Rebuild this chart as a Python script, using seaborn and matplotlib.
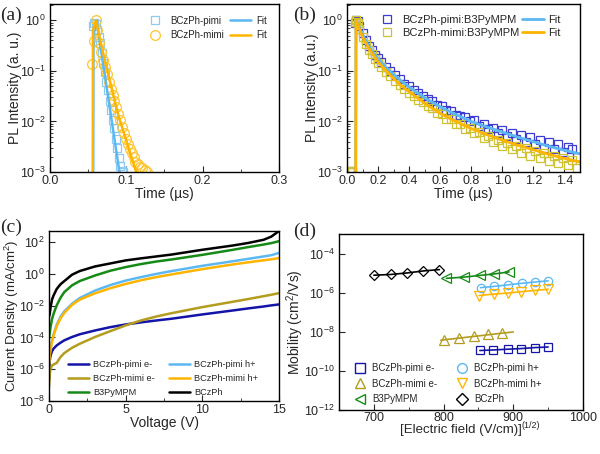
import numpy as np
import pandas as pd
import matplotlib
matplotlib.use("agg")
import matplotlib.pyplot as plt
import matplotlib.lines as mlines
from matplotlib.ticker import AutoMinorLocator, LogLocator, NullFormatter
import seaborn as sns

# ---------------- (a) PL decay of neat films ----------------
a_pimi_t = [0.056, 0.058, 0.060, 0.062, 0.064, 0.066, 0.068, 0.070, 0.072, 0.074, 0.076,
            0.078, 0.080, 0.082, 0.084, 0.086, 0.088, 0.090, 0.092, 0.094, 0.096]
a_pimi_log = [-0.12, -0.06, -0.08, -0.2, -0.32, -0.45, -0.65, -0.85, -1.02, -1.22, -1.38,
              -1.6, -1.78, -1.98, -2.12, -2.35, -2.52, -2.72, -2.88, -2.98, -3.0]
a_mimi_t = [0.0555, 0.058, 0.060, 0.062, 0.0645, 0.067, 0.0695, 0.072, 0.0745, 0.077, 0.0795,
            0.082, 0.0845, 0.087, 0.0895, 0.092, 0.0945, 0.097, 0.0995, 0.102, 0.1045, 0.107,
            0.1095, 0.112, 0.115, 0.118, 0.121, 0.124, 0.127]
a_mimi_log = [-0.86, -0.4, 0.0, -0.2, -0.45, -0.62, -0.78, -0.92, -1.07, -1.22, -1.35,
              -1.48, -1.6, -1.72, -1.85, -1.98, -2.1, -2.22, -2.35, -2.45, -2.55, -2.62,
              -2.7, -2.8, -2.85, -2.9, -2.92, -2.96, -3.0]
a_pimi_fit_t = [0.0566, 0.0570, 0.0610, 0.0920]
a_pimi_fit_log = [-3.3, -0.3, 0.0, -3.1]
a_mimi_fit_t = [0.0560, 0.0563, 0.0600, 0.0750, 0.0900, 0.1150]
a_mimi_fit_log = [-3.3, -0.2, 0.0, -1.0, -1.9, -3.1]

# ---------------- (b) PL decay of exciplex blends ----------------
b_t = [0.02, 0.03, 0.05, 0.06, 0.07, 0.08, 0.10, 0.12, 0.14, 0.16, 0.18, 0.20, 0.22,
       0.25, 0.28, 0.31, 0.34, 0.37, 0.40, 0.43, 0.46, 0.49, 0.52, 0.55, 0.58, 0.61,
       0.64, 0.67, 0.70, 0.73, 0.76, 0.79, 0.82, 0.85, 0.88, 0.91, 0.94, 0.97, 1.00,
       1.03, 1.06, 1.09, 1.12, 1.15, 1.18, 1.21, 1.24, 1.27, 1.30, 1.33, 1.36, 1.39,
       1.42, 1.45, 1.48]
b_pimi_log = [-2.97, -2.99, -0.05, 0.0, -0.02, -0.12, -0.25, -0.38, -0.5, -0.58, -0.68, -0.74, -0.82,
              -0.92, -1.0, -1.09, -1.16, -1.26, -1.3, -1.38, -1.44, -1.49, -1.56, -1.6, -1.68, -1.7,
              -1.78, -1.8, -1.88, -1.9, -1.92, -2.0, -1.98, -2.08, -2.05, -2.15, -2.12, -2.22, -2.16,
              -2.28, -2.22, -2.35, -2.27, -2.4, -2.3, -2.45, -2.36, -2.52, -2.4, -2.55, -2.45, -2.6,
              -2.5, -2.55, -2.7]
b_mimi_log = [-3.0, -2.98, -0.03, 0.0, -0.06, -0.18, -0.33, -0.46, -0.58, -0.66, -0.76, -0.85, -0.92,
              -1.02, -1.1, -1.2, -1.28, -1.36, -1.44, -1.5, -1.58, -1.62, -1.7, -1.74, -1.84, -1.86,
              -1.95, -1.96, -2.05, -2.06, -2.14, -2.12, -2.22, -2.2, -2.32, -2.28, -2.4, -2.36, -2.48,
              -2.42, -2.55, -2.48, -2.62, -2.52, -2.68, -2.58, -2.72, -2.62, -2.78, -2.68, -2.82, -2.72,
              -2.86, -2.76, -2.92]
b_fit_t = [0.056, 0.058, 0.06, 0.08, 0.10, 0.13, 0.16, 0.20, 0.25, 0.30, 0.35, 0.40, 0.50,
           0.60, 0.70, 0.80, 0.90, 1.00, 1.10, 1.20, 1.30, 1.40, 1.50]
b_pimi_fit_log = [-3.3, -0.02, 0.0, -0.14, -0.28, -0.45, -0.6, -0.76, -0.93, -1.07, -1.2, -1.32, -1.53,
                  -1.71, -1.86, -2.0, -2.11, -2.21, -2.31, -2.4, -2.49, -2.57, -2.64]
b_mimi_fit_log = [-3.3, -0.02, 0.0, -0.17, -0.33, -0.5, -0.64, -0.82, -0.99, -1.15, -1.29, -1.41, -1.64,
                  -1.84, -2.0, -2.14, -2.26, -2.37, -2.47, -2.56, -2.65, -2.73, -2.8]

# ---------------- (c) J-V of single carrier devices ----------------
volt = [0, 0.05, 0.1, 0.2, 0.3, 0.5, 0.75, 1, 1.5, 2, 3, 4, 5, 6, 7, 8, 10, 12, 13, 14, 14.5, 15]
j_pimi_e = [-6.7, -5.44, -5.13, -4.86, -4.7, -4.5, -4.33, -4.18, -3.97, -3.8, -3.56, -3.35, -3.18,
            -3.05, -2.93, -2.82, -2.55, -2.3, -2.17, -2.05, -1.98, -1.92]
j_mimi_e = [-7.1, -6.28, -5.97, -5.76, -5.7, -5.6, -5.23, -4.98, -4.65, -4.4, -3.97, -3.6, -3.24,
            -2.93, -2.68, -2.47, -2.09, -1.75, -1.58, -1.4, -1.31, -1.21]
j_b3py = [-4.1, -3.7, -3.35, -2.82, -2.5, -1.98, -1.5, -1.14, -0.72, -0.45, -0.1, 0.2, 0.43,
          0.62, 0.78, 0.91, 1.2, 1.52, 1.69, 1.85, 1.94, 2.06]
j_pimi_h = [-5.6, -5.0, -4.7, -4.2, -3.8, -3.2, -2.7, -2.35, -1.88, -1.52, -1.05, -0.7, -0.42,
            -0.2, 0.0, 0.18, 0.51, 0.8, 0.95, 1.1, 1.18, 1.32]
j_mimi_h = [-5.8, -5.1, -4.75, -4.25, -3.85, -3.3, -2.8, -2.45, -1.95, -1.62, -1.22, -0.9, -0.63,
            -0.4, -0.2, -0.03, 0.3, 0.6, 0.73, 0.86, 0.92, 1.0]
j_bczph = [-2.7, -2.5, -2.1, -1.6, -1.35, -0.95, -0.65, -0.45, -0.05, 0.18, 0.47, 0.66, 0.85,
           0.98, 1.1, 1.22, 1.52, 1.79, 1.95, 2.15, 2.35, 2.7]

# ---------------- (d) mobility vs sqrt(E) ----------------
mu_pimi_e_x = [852, 871, 892, 911, 931, 950]
mu_pimi_e = [1.1e-9, 1.17e-9, 1.28e-9, 1.38e-9, 1.55e-9, 1.66e-9]
mu_mimi_e_x = [800, 822, 843, 864, 884]
mu_mimi_e = [3.9e-9, 4.7e-9, 5.9e-9, 7.4e-9, 8.9e-9]
mu_mimi_e_fit_x = [796, 900]
mu_mimi_e_fit = [3.7e-9, 9.8e-9]
mu_b3py_x = [804, 829, 852, 873, 894]
mu_b3py = [5.4e-6, 6.2e-6, 7.6e-6, 9.1e-6, 1.15e-5]
mu_pimi_h_x = [853, 873, 892, 912, 931, 950]
mu_pimi_h = [1.8e-6, 2.1e-6, 2.5e-6, 3.0e-6, 3.5e-6, 4.0e-6]
mu_mimi_h_x = [851, 872, 892, 911, 931, 950]
mu_mimi_h = [7.1e-7, 8.5e-7, 9.5e-7, 1.12e-6, 1.3e-6, 1.5e-6]
mu_bczph_x = [700, 724, 748, 771, 794]
mu_bczph = [7.8e-6, 8.5e-6, 1.02e-5, 1.29e-5, 1.51e-5]

C_DBLUE = "#1414a8"
C_OLIVE = "#b39c1e"
C_GREEN = "#168a16"
C_LBLUE = "#5cb8f2"
C_ORANGE = "#ffb400"

sns.set_theme(style="ticks")
plt.rcParams["font.family"] = ["Liberation Sans", "DejaVu Sans"]
plt.rcParams["mathtext.fontset"] = "custom"
plt.rcParams["mathtext.rm"] = "Liberation Sans"
plt.rcParams["mathtext.it"] = "Liberation Sans:italic"
plt.rcParams["axes.linewidth"] = 1.0
plt.rcParams["axes.edgecolor"] = "black"

fig = plt.figure(figsize=(6.0, 4.54), dpi=100)
ax_a = fig.add_axes([0.0833, 0.6211, 0.3817, 0.370])
ax_b = fig.add_axes([0.5783, 0.6211, 0.3883, 0.370])
ax_c = fig.add_axes([0.0817, 0.1167, 0.3833, 0.3744])
ax_d = fig.add_axes([0.565, 0.0970, 0.4067, 0.3876])


def pts(ax, x, y, color, marker, label, ms=6, mew=0.9, ls="", lw=1.5):
    sns.lineplot(x=x, y=y, ax=ax, color=color, marker=marker, linestyle=ls, lw=lw,
                 markersize=ms, markerfacecolor="none", markeredgecolor=color, markeredgewidth=mew,
                 estimator=None, sort=False, label=label)


def line(ax, x, y, color, label, lw=1.8):
    sns.lineplot(x=x, y=y, ax=ax, color=color, lw=lw, estimator=None, sort=False, label=label)


def style(ax, xlabel, ylabel):
    ax.set_yscale("log")
    ax.set_xlabel(xlabel, fontsize=10, labelpad=0)
    ax.set_ylabel(ylabel, fontsize=10, labelpad=-1)
    ax.tick_params(which="both", direction="in", top=False, right=False, labelsize=9, pad=2)
    ax.tick_params(axis="y", which="both", pad=3)
    ax.tick_params(which="major", length=4, width=0.8)
    ax.tick_params(which="minor", length=2, width=0.6)
    ax.xaxis.set_minor_locator(AutoMinorLocator(2))
    for s in ax.spines.values():
        s.set_visible(True)
        s.set_color("black")


# (a)
pts(ax_a, a_pimi_t, [10 ** v for v in a_pimi_log], "#8ccaf2", "s", "BCzPh-pimi")
pts(ax_a, a_mimi_t, [10 ** v for v in a_mimi_log], "#ffc52e", "o", "BCzPh-mimi", ms=7)
line(ax_a, a_pimi_fit_t, [10 ** v for v in a_pimi_fit_log], C_LBLUE, "Fit")
line(ax_a, a_mimi_fit_t, [10 ** v for v in a_mimi_fit_log], C_ORANGE, "Fit")
style(ax_a, "Time (\u00b5s)", "PL Intensity (a. u.)")
ax_a.set_xlim(0, 0.3)
ax_a.set_ylim(1e-3, 2.1)
ax_a.set_xticks([0.0, 0.1, 0.2, 0.3])
ax_a.yaxis.set_major_locator(LogLocator(base=10, numticks=10))
h, l = ax_a.get_legend_handles_labels()
ax_a.legend(h, l, ncol=2, loc="upper left", bbox_to_anchor=(0.38, 0.97), frameon=False,
            fontsize=7.0, handlelength=2.2, handletextpad=0.5, columnspacing=0.6,
            labelspacing=0.45, borderaxespad=0.3)

# (b)
pts(ax_b, b_t, [10 ** v for v in b_pimi_log], "#3c3cd2", "s", "BCzPh-pimi:B3PyMPM")
pts(ax_b, b_t, [10 ** v for v in b_mimi_log], "#cfc232", "s", "BCzPh-mimi:B3PyMPM")
line(ax_b, b_fit_t, [10 ** v for v in b_pimi_fit_log], C_LBLUE, "Fit", lw=2.0)
line(ax_b, b_fit_t, [10 ** v for v in b_mimi_fit_log], C_ORANGE, "Fit", lw=2.0)
style(ax_b, "Time (\u00b5s)", "PL Intensity (a.u.)")
ax_b.set_xlim(0, 1.5)
ax_b.set_ylim(1e-3, 2.1)
ax_b.set_xticks([0.0, 0.2, 0.4, 0.6, 0.8, 1.0, 1.2, 1.4])
ax_b.yaxis.set_major_locator(LogLocator(base=10, numticks=10))
h, l = ax_b.get_legend_handles_labels()
ax_b.legend(h, l, ncol=2, loc="upper left", bbox_to_anchor=(0.09, 0.98), frameon=False,
            fontsize=8.0, handlelength=2.0, handletextpad=0.4, columnspacing=0.2,
            labelspacing=0.25, borderaxespad=0.3)

# (c)
line(ax_c, volt, [10 ** v for v in j_pimi_e], C_DBLUE, "BCzPh-pimi e-")
line(ax_c, volt, [10 ** v for v in j_mimi_e], C_OLIVE, "BCzPh-mimi e-")
line(ax_c, volt, [10 ** v for v in j_b3py], C_GREEN, "B3PyMPM")
line(ax_c, volt, [10 ** v for v in j_pimi_h], C_LBLUE, "BCzPh-pimi h+")
line(ax_c, volt, [10 ** v for v in j_mimi_h], C_ORANGE, "BCzPh-mimi h+")
line(ax_c, volt, [10 ** v for v in j_bczph], "black", "BCzPh")
style(ax_c, "Voltage (V)", "Current Density (mA/cm$^{2}$)")
ax_c.yaxis.label.set_size(9.5)
ax_c.set_xlim(0, 15)
ax_c.set_ylim(1e-8, 5e2)
ax_c.set_xticks([0, 5, 10, 15])
ax_c.yaxis.set_major_locator(LogLocator(base=10, numticks=6))
h, l = ax_c.get_legend_handles_labels()
ax_c.legend(h, l, ncol=2, loc="lower left", bbox_to_anchor=(0.06, -0.01), frameon=False,
            fontsize=6.6, handlelength=2.3, handletextpad=0.4, columnspacing=1.6,
            labelspacing=0.55, borderaxespad=0.2)

# (d)
pts(ax_d, mu_pimi_e_x, mu_pimi_e, C_DBLUE, "s", "BCzPh-pimi e-", ls="-", lw=1.2)
pts(ax_d, mu_mimi_e_x, mu_mimi_e, C_OLIVE, "^", "BCzPh-mimi e-", ms=7, ls="")
sns.lineplot(x=mu_mimi_e_fit_x, y=mu_mimi_e_fit, ax=ax_d, color=C_OLIVE, lw=1.2,
             estimator=None, sort=False)
pts(ax_d, mu_b3py_x, mu_b3py, C_GREEN, "<", "B3PyMPM", ms=7, ls="-", lw=1.2)
pts(ax_d, mu_pimi_h_x, mu_pimi_h, C_LBLUE, "o", "BCzPh-pimi h+", ls="-", lw=1.2)
pts(ax_d, mu_mimi_h_x, mu_mimi_h, C_ORANGE, "v", "BCzPh-mimi h+", ms=7, ls="-", lw=1.2)
pts(ax_d, mu_bczph_x, mu_bczph, "black", "D", "BCzPh", ms=5.5, ls="-", lw=1.2)
style(ax_d, "[Electric field (V/cm)]", "Mobility (cm$^{2}$/Vs)")
ax_d.set_xlabel("[Electric field (V/cm)]", fontsize=9.5, labelpad=0)
ax_d.annotate("(1/2)", xy=(1.0, 0.85), xycoords=ax_d.xaxis.label, fontsize=6.5,
              ha="left", va="center")
ax_d.tick_params(axis="x", which="both", pad=1.5)
ax_d.set_xlim(650, 1000)
ax_d.set_ylim(1e-12, 1e-3)
ax_d.set_xticks([700, 800, 900, 1000])
ax_d.yaxis.set_major_locator(LogLocator(base=10, numticks=6))
ax_d.yaxis.set_minor_formatter(NullFormatter())
mk = [("s", C_DBLUE, "BCzPh-pimi e-"), ("^", C_OLIVE, "BCzPh-mimi e-"), ("<", C_GREEN, "B3PyMPM"),
      ("o", C_LBLUE, "BCzPh-pimi h+"), ("v", C_ORANGE, "BCzPh-mimi h+"), ("D", "black", "BCzPh")]
handles = [mlines.Line2D([], [], marker=m, color=c, linestyle="", markersize=7 if m != "D" else 6,
                         markerfacecolor="none", markeredgewidth=1.0) for m, c, _ in mk]
ax_d.legend(handles, [t for _, _, t in mk], ncol=2, loc="lower left", bbox_to_anchor=(0.04, 0.0),
            frameon=False, fontsize=7.0, handlelength=1.2, handletextpad=0.6, columnspacing=2.0,
            labelspacing=0.55, borderaxespad=0.2)

for txt, x, y in [("(a)", 0.0, 0.967), ("(b)", 0.488, 0.967), ("(c)", 0.0, 0.50), ("(d)", 0.488, 0.49)]:
    fig.text(x, y, txt, fontsize=14, family="Liberation Serif", va="center", ha="left")

fig.savefig("out.png", dpi=100)
